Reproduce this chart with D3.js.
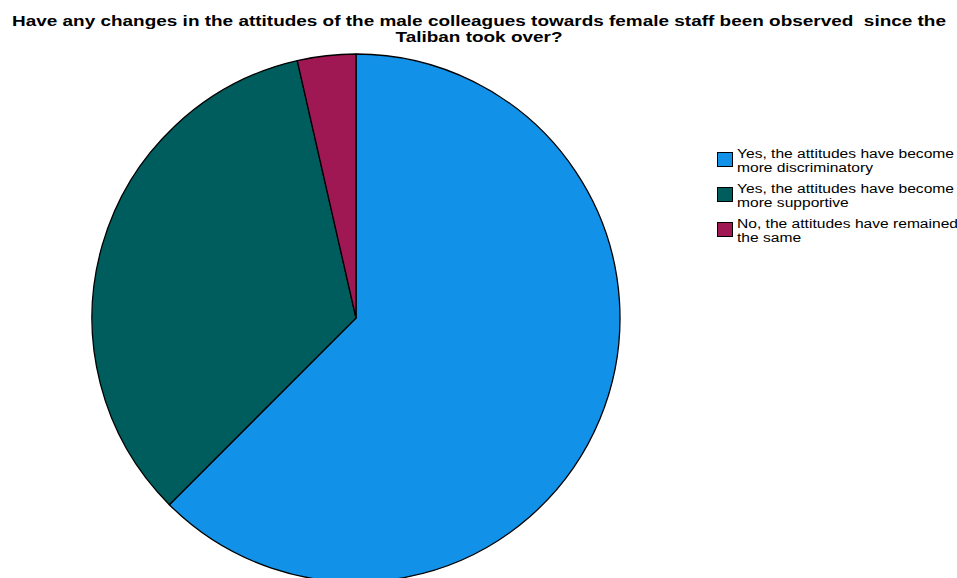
<!DOCTYPE html>
<html><head><meta charset="utf-8">
<script src="https://cdn.jsdelivr.net/npm/d3@7/dist/d3.min.js"></script>
<style>body{margin:0;background:#fff}svg{display:block}</style>
</head><body>
<svg id="c" width="957" height="578"></svg>
<script>
const titleLines = ["Have any changes in the attitudes of the male colleagues towards female staff been observed  since the", "Taliban took over?"];
const categories = ["Yes, the attitudes have become more discriminatory", "Yes, the attitudes have become more supportive", "No, the attitudes have remained the same"];
const legendLines = [["Yes, the attitudes have become", "more discriminatory"], ["Yes, the attitudes have become", "more supportive"], ["No, the attitudes have remained", "the same"]];
const counts = [35, 19, 2];
const colors = ["#1192e8", "#005d5d", "#9f1853"];

const svg = d3.select("#c");
const cx = 356, cy = 318, r = 264;
const pie = d3.pie().sort(null).value(d => d)(counts);
const arc = d3.arc().innerRadius(0).outerRadius(r);
const color = d3.scaleOrdinal().domain(d3.range(counts.length)).range(colors);
svg.append("g").attr("transform", `translate(${cx},${cy})`)
  .selectAll("path").data(pie).join("path")
  .attr("d", arc).attr("fill", (d, i) => color(i))
  .attr("stroke", "#000").attr("stroke-width", 1.3).attr("stroke-linejoin", "round");

// title
const t = svg.append("g").attr("font-family", "Liberation Sans, Arial, sans-serif").attr("font-weight", "bold").attr("font-size", 15).attr("fill", "#000");
const tl = titleLines.map((s, i) => t.append("text").attr("x", 479).attr("y", 26 + i * 16).attr("text-anchor", "middle").style("white-space", "pre").text(s));
const w1 = tl[0].node().getComputedTextLength();
const sc = 934 / w1;
tl.forEach(n => { const w = n.node().getComputedTextLength(); n.attr("textLength", w * sc).attr("lengthAdjust", "spacingAndGlyphs"); });

// legend
const lg = svg.append("g").attr("font-family", "Liberation Sans, Arial, sans-serif").attr("font-size", 12.5).attr("fill", "#000");
const groupY = [152, 187, 222];
const texts = [];
legendLines.forEach((lines, i) => {
  lg.append("rect").attr("x", 717.5).attr("y", groupY[i] + 0.5).attr("width", 15).attr("height", 14)
    .attr("fill", color(i)).attr("stroke", "#000").attr("stroke-width", 1);
  lines.forEach((s, j) => {
    texts.push(lg.append("text").attr("x", 737).attr("y", groupY[i] + 6 + j * 14).text(s));
  });
});
const lw = texts[0].node().getComputedTextLength();
const ls = 217 / lw;
texts.forEach(n => { const w = n.node().getComputedTextLength(); n.attr("textLength", w * ls).attr("lengthAdjust", "spacingAndGlyphs"); });
</script>
</body></html>
